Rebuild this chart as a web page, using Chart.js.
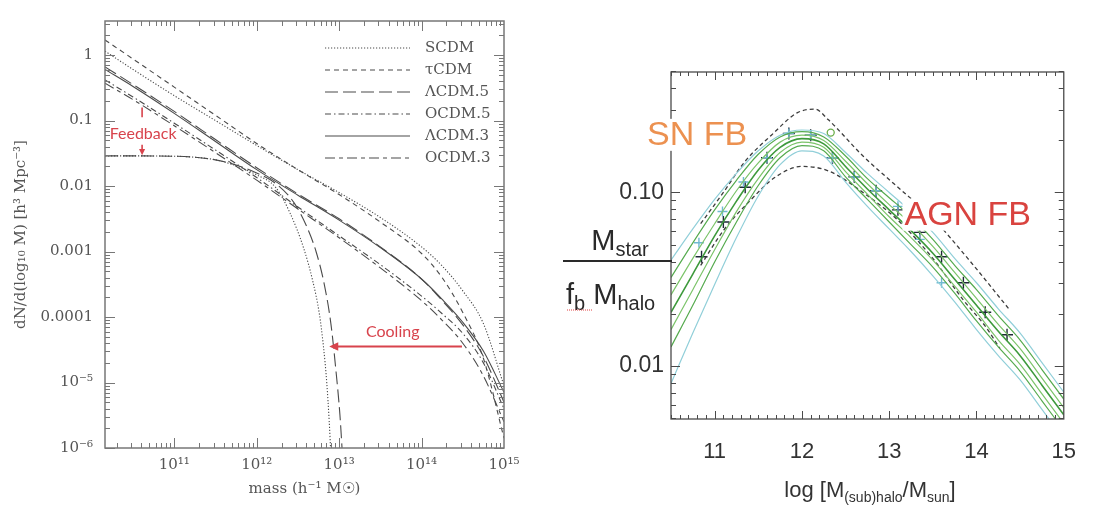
<!DOCTYPE html>
<html>
<head>
<meta charset="utf-8">
<script src="https://cdn.jsdelivr.net/npm/chart.js@4.4.1/dist/chart.umd.min.js"></script>
<style>
  body { margin: 0; background: #fff; }
  #wrap { position: relative; width: 1096px; height: 506px; overflow: hidden; background: #fff; }
  canvas { position: absolute; top: 0; }
  #left { left: 0; }
  #right { left: 540px; }
</style>
</head>
<body>
<div id="wrap">
  <canvas id="left" width="540" height="506"></canvas>
  <canvas id="right" width="556" height="506"></canvas>
</div>
<script>
// ---------- left panel: halo mass functions, log10 values ----------
const massLog = [10.16, 10.5, 11, 11.5, 12, 12.5, 13, 13.5, 14, 14.25, 14.5, 14.75, 15]
const scdm  = [0.06, -0.22, -0.62, -1.0, -1.38, -1.75, -2.1, -2.48, -2.93, -3.22, -3.6, -4.1, -5.05]
const tcdm  = [0.23, -0.06, -0.49, -0.92, -1.35, -1.75, -2.13, -2.55, -3.03, -3.4, -3.93, -4.63, -5.85]
const lcdm5 = [-0.18, -0.45, -0.86, -1.29, -1.72, -2.12, -2.5, -2.93, -3.42, -3.75, -4.12, -4.6, -5.3]
const ocdm5 = [-0.38, -0.64, -1.04, -1.45, -1.87, -2.32, -2.76, -3.2, -3.68, -3.95, -4.25, -4.7, -5.4]
const lcdm3 = [-0.22, -0.48, -0.89, -1.32, -1.75, -2.14, -2.52, -2.94, -3.42, -3.73, -4.08, -4.52, -5.15]
const ocdm3 = [-0.43, -0.68, -1.08, -1.49, -1.91, -2.35, -2.79, -3.25, -3.75, -4.05, -4.4, -4.9, -5.6]

// the two "feedback + cooling" curves
const cutMassA = [10.16, 10.5, 11, 11.25, 11.5, 11.75, 12, 12.23, 12.4, 12.57, 12.68, 12.76, 12.81, 12.85, 12.88, 12.9]
const cutA     = [-1.54, -1.54, -1.545, -1.56, -1.6, -1.69, -1.83, -2.02, -2.4, -2.95, -3.45, -3.95, -4.45, -5.0, -5.6, -6.1]
const cutMassB = [10.16, 10.5, 11, 11.25, 11.5, 11.75, 12, 12.25, 12.45, 12.6, 12.72, 12.82, 12.9, 12.96, 13.01, 13.04]
const cutB     = [-1.54, -1.54, -1.545, -1.56, -1.6, -1.68, -1.8, -1.98, -2.25, -2.6, -3.0, -3.5, -4.1, -4.8, -5.5, -6.1]

const massTicks = [1e11, 1e12, 1e13, 1e14, 1e15]
const massTickLabels = ['10¹¹', '10¹²', '10¹³', '10¹⁴', '10¹⁵']
const dnTicks = [1e-6, 1e-5, 1e-4, 1e-3, 1e-2, 1e-1, 1]
const dnTickLabels = ['10⁻⁶', '10⁻⁵', '0.0001', '0.001', '0.01', '0.1', '1']

// ---------- right panel: stellar-to-halo mass fraction, log10 values ----------
const haloLog = [10.5, 10.75, 11, 11.25, 11.5, 11.75, 12, 12.25, 12.5, 12.75, 13, 13.25, 13.5, 13.75, 14, 14.25, 14.5, 14.75, 15]
const greenP2 = [-1.49, -1.29, -1.10, -0.93, -0.78, -0.68, -0.65, -0.68, -0.79, -0.92, -1.03, -1.14, -1.27, -1.42, -1.56, -1.71, -1.85, -2.02, -2.19]
const greenP1 = [-1.59, -1.38, -1.18, -0.99, -0.83, -0.71, -0.67, -0.70, -0.82, -0.95, -1.07, -1.18, -1.31, -1.46, -1.61, -1.76, -1.90, -2.07, -2.24]
const greenMid = [-1.69, -1.47, -1.25, -1.05, -0.87, -0.74, -0.69, -0.72, -0.85, -0.98, -1.10, -1.22, -1.35, -1.50, -1.65, -1.80, -1.94, -2.11, -2.28]
const greenM1 = [-1.79, -1.56, -1.33, -1.11, -0.92, -0.77, -0.71, -0.74, -0.88, -1.01, -1.14, -1.26, -1.39, -1.54, -1.69, -1.85, -1.99, -2.16, -2.33]
const greenM2 = [-1.89, -1.65, -1.40, -1.17, -0.96, -0.80, -0.73, -0.76, -0.91, -1.04, -1.17, -1.30, -1.43, -1.58, -1.74, -1.89, -2.03, -2.20, -2.37]
const cyanUp  = [-1.39, -1.21, -1.04, -0.89, -0.76, -0.67, -0.64, -0.66, -0.77, -0.89, -1.00, -1.11, -1.23, -1.38, -1.52, -1.67, -1.81, -1.98, -2.15]
const cyanDn  = [-2.10, -1.81, -1.53, -1.26, -1.02, -0.84, -0.76, -0.79, -0.94, -1.08, -1.21, -1.34, -1.48, -1.63, -1.79, -1.94, -2.08, -2.25, -2.42]

const dashUpHalo = [10.84, 11.1, 11.35, 11.65, 11.95, 12.15, 12.3, 12.7, 13.1, 13.5, 13.9, 14.37]
const dashUp     = [-1.18, -1.0, -0.82, -0.67, -0.54, -0.52, -0.58, -0.79, -0.97, -1.15, -1.38, -1.67]
const dashLoHalo = [10.84, 11.1, 11.4, 11.7, 12.0, 12.3, 12.7, 13.1, 13.5, 13.85, 14.1, 14.27]
const dashLo     = [-1.42, -1.22, -1.05, -0.91, -0.85, -0.875, -1.0, -1.16, -1.38, -1.62, -1.77, -1.9]

const crossHalo = [10.85, 11.1, 11.35, 11.6, 11.85, 12.1, 12.35, 12.6, 12.85, 13.1, 13.35, 13.6, 13.85, 14.1, 14.35]
const crossFrac = [-1.37, -1.17, -0.97, -0.80, -0.66, -0.67, -0.80, -0.91, -0.99, -1.10, -1.23, -1.37, -1.52, -1.69, -1.82]
const cyanMarkHalo = [10.82, 11.09, 11.33, 11.6, 11.85, 12.1, 12.35, 12.6, 12.85, 13.1, 13.35, 13.6]
const cyanMarkFrac = [-1.29, -1.11, -0.94, -0.80, -0.66, -0.67, -0.80, -0.91, -0.99, -1.08, -1.27, -1.52]
const circleHalo = [12.33]
const circleFrac = [-0.655]

const haloTicks = [11, 12, 13, 14, 15]
const haloTickLabels = ['11', '12', '13', '14', '15']
const fracTicks = [0.01, 0.1]
const fracTickLabels = ['0.01', '0.10']

// annotations, in data coordinates
const feedbackNote = { mass: 10.61, barTop: -0.80, barBottom: -0.95, textY: -1.21, arrowTop: -1.37, arrowTip: -1.53 }
const coolingNote = { textMass: 13.65, textY: -4.22, arrowFrom: 14.49, arrowTo: 12.88, arrowY: -4.45 }
const snNote = { halo: 10.8, frac: -0.668, text: 'SN FB' }
const agnNote = { halo: 13.9, frac: -1.128, text: 'AGN FB' }

const logPts = (xs, ys) => xs.map((x, i) => ({ x: 10 ** x, y: 10 ** ys[i] }))
const fracPts = (xs, ys) => xs.map((x, i) => ({ x: x, y: 10 ** ys[i] }))

const serif = 'DejaVu Serif'
const grey = '#555'

function curve(label, xs, ys, dash, inLegend) {
  return {
    label, inLegend, data: logPts(xs, ys), borderColor: '#4a4a4a', borderWidth: 1.1,
    borderDash: dash, pointRadius: 0, cubicInterpolationMode: 'monotone', fill: false, clip: 0
  }
}

function tickList(decades, bigLen, smallLen) {
  const out = []
  decades.forEach(d => { for (let k = 1; k <= 9; k++) out.push([k * 10 ** d, k === 1 ? bigLen : smallLen]) })
  return out
}

// frame + inward tick marks on all four sides
const frame = {
  id: 'frame',
  afterDatasetsDraw(chart, args, o) {
    const { ctx, chartArea: a, scales: { x, y } } = chart
    ctx.save()
    ctx.strokeStyle = o.color
    ctx.lineWidth = 1
    o.xTicks.forEach(([v, len]) => {
      const p = Math.round(x.getPixelForValue(v)) + 0.5
      if (p < a.left - 0.5 || p > a.right + 0.5) return
      ctx.beginPath()
      ctx.moveTo(p, a.bottom); ctx.lineTo(p, a.bottom - len)
      ctx.moveTo(p, a.top); ctx.lineTo(p, a.top + len)
      ctx.stroke()
    })
    o.yTicks.forEach(([v, len]) => {
      const p = Math.round(y.getPixelForValue(v)) + 0.5
      if (p < a.top - 0.5 || p > a.bottom + 0.5) return
      ctx.beginPath()
      ctx.moveTo(a.left, p); ctx.lineTo(a.left + len, p)
      ctx.moveTo(a.right, p); ctx.lineTo(a.right - len, p)
      ctx.stroke()
    })
    ctx.lineWidth = o.width
    ctx.strokeRect(a.left, a.top, a.width, a.height)
    ctx.restore()
  }
}

function arrowHead(ctx, x, y, dx, dy, size) {
  const ang = Math.atan2(dy, dx)
  ctx.beginPath()
  ctx.moveTo(x, y)
  ctx.lineTo(x - size * Math.cos(ang - 0.45), y - size * Math.sin(ang - 0.45))
  ctx.lineTo(x - size * Math.cos(ang + 0.45), y - size * Math.sin(ang + 0.45))
  ctx.closePath()
  ctx.fill()
}

const leftNotes = {
  id: 'leftNotes',
  afterDatasetsDraw(chart) {
    const { ctx, scales: { x, y } } = chart
    const red = '#d8434c'
    ctx.save()
    // legend
    ctx.font = '15px ' + serif
    ctx.textBaseline = 'middle'
    chart.data.datasets.filter(d => d.inLegend).forEach((d, i) => {
      const ry = 48 + i * 22
      ctx.strokeStyle = d.borderColor; ctx.lineWidth = 1.1
      ctx.setLineDash(d.borderDash)
      ctx.beginPath(); ctx.moveTo(325, ry); ctx.lineTo(410, ry); ctx.stroke()
      ctx.setLineDash([])
      ctx.fillStyle = grey
      ctx.fillText(d.label, 425, ry)
    })
    // feedback
    ctx.strokeStyle = red; ctx.fillStyle = red
    const fx = x.getPixelForValue(10 ** feedbackNote.mass)
    ctx.lineWidth = 1.6
    ctx.beginPath()
    ctx.moveTo(fx, y.getPixelForValue(10 ** feedbackNote.barTop))
    ctx.lineTo(fx, y.getPixelForValue(10 ** feedbackNote.barBottom))
    const tip = y.getPixelForValue(10 ** feedbackNote.arrowTip)
    ctx.moveTo(fx, y.getPixelForValue(10 ** feedbackNote.arrowTop))
    ctx.lineTo(fx, tip - 4)
    ctx.stroke()
    arrowHead(ctx, fx, tip, 0, 1, 7)
    ctx.font = '16px Lato'
    ctx.textAlign = 'center'
    ctx.fillText('Feedback', fx + 1, y.getPixelForValue(10 ** feedbackNote.textY))
    // cooling
    const cy = y.getPixelForValue(10 ** coolingNote.arrowY)
    const c0 = x.getPixelForValue(10 ** coolingNote.arrowFrom)
    const c1 = x.getPixelForValue(10 ** coolingNote.arrowTo)
    ctx.lineWidth = 2
    ctx.beginPath(); ctx.moveTo(c0, cy); ctx.lineTo(c1 + 6, cy); ctx.stroke()
    arrowHead(ctx, c1, cy, -1, 0, 10)
    ctx.fillText('Cooling', x.getPixelForValue(10 ** coolingNote.textMass), y.getPixelForValue(10 ** coolingNote.textY))
    ctx.restore()
  }
}

new Chart(document.getElementById('left'), {
  type: 'line',
  data: {
    datasets: [
      curve('SCDM', massLog, scdm, [1.2, 1.8], true),
      curve('τCDM', massLog, tcdm, [5, 4], true),
      curve('ΛCDM.5', massLog, lcdm5, [13, 5], true),
      curve('OCDM.5', massLog, ocdm5, [6, 3, 1.5, 3], true),
      curve('ΛCDM.3', massLog, lcdm3, [], true),
      curve('OCDM.3', massLog, ocdm3, [10, 4, 4, 4], true),
      curve('cutA', cutMassA, cutA, [1.2, 1.8], false),
      curve('cutB', cutMassB, cutB, [13, 5], false)
    ]
  },
  options: {
    responsive: false,
    animation: false,
    layout: { padding: { left: 0, right: 36, top: 11, bottom: 0 } },
    plugins: {
      legend: { display: false },
      tooltip: { enabled: false },
      frame: {
        color: '#777', width: 1.5,
        xTicks: tickList([10, 11, 12, 13, 14], 10, 5),
        yTicks: tickList([-6, -5, -4, -3, -2, -1, 0], 10, 5)
      }
    },
    scales: {
      x: {
        type: 'logarithmic', min: 10 ** 10.16, max: 1e15,
        afterFit: s => { s.height = 58 },
        afterBuildTicks: s => { s.ticks = massTicks.map(v => ({ value: v })) },
        grid: { display: false, drawTicks: false },
        border: { display: false },
        ticks: { callback: (v, i) => massTickLabels[i], padding: 8, color: grey, font: { family: serif, size: 15 }, maxRotation: 0, autoSkip: false },
        title: { display: true, text: 'mass (h⁻¹ M☉)', color: grey, font: { family: serif, size: 15 }, padding: { top: 0, bottom: 8 } }
      },
      y: {
        type: 'logarithmic', min: 1e-6, max: 10 ** 0.52,
        afterFit: s => { s.width = 105 },
        afterBuildTicks: s => { s.ticks = dnTicks.map(v => ({ value: v })) },
        grid: { display: false, drawTicks: false },
        border: { display: false },
        ticks: { callback: (v, i) => dnTickLabels[i], padding: 12, color: grey, font: { family: serif, size: 15 }, autoSkip: false },
        title: { display: true, text: 'dN/d(log₁₀ M) [h³ Mpc⁻³]', color: grey, font: { family: serif, size: 15 }, padding: { top: 12, bottom: 0 } }
      }
    }
  },
  plugins: [frame, leftNotes]
})

// ---------- right panel ----------
function band(xs, ys, color, width) {
  return { data: fracPts(xs, ys), borderColor: color, borderWidth: width, pointRadius: 0, cubicInterpolationMode: 'monotone', fill: false, clip: 0 }
}
function marks(xs, ys, style, color, radius, width) {
  return { data: fracPts(xs, ys), showLine: false, pointStyle: style, pointRadius: radius, pointBorderColor: color, pointBackgroundColor: 'rgba(0,0,0,0)', pointBorderWidth: width, clip: 0 }
}

const sans = 'Liberation Sans'

const rightNotes = {
  id: 'rightNotes',
  afterDatasetsDraw(chart) {
    const { ctx, scales: { x, y } } = chart
    ctx.save()
    ctx.font = '34px ' + sans
    ctx.textAlign = 'center'
    ctx.textBaseline = 'middle'
    ;[[snNote, '#ec9150'], [agnNote, '#d9433f']].forEach(([n, col]) => {
      const px = x.getPixelForValue(n.halo), py = y.getPixelForValue(10 ** n.frac)
      const w = ctx.measureText(n.text).width
      ctx.fillStyle = '#fff'
      ctx.fillRect(px - w / 2 - 2, py - 16, w + 4, 32)
      ctx.fillStyle = col
      ctx.fillText(n.text, px, py + 1)
    })
    ctx.restore()
  },
  afterDraw(chart) {
    const ctx = chart.ctx
    ctx.save()
    ctx.fillStyle = '#2a2a2a'
    ctx.textBaseline = 'alphabetic'
    const piece = (parts, x0, base) => {
      let cx = x0
      parts.forEach(([t, size, dy]) => {
        ctx.font = size + 'px ' + sans
        ctx.fillText(t, cx, base + dy)
        cx += ctx.measureText(t).width
      })
      return cx - x0
    }
    const width = parts => parts.reduce((s, [t, size]) => { ctx.font = size + 'px ' + sans; return s + ctx.measureText(t).width }, 0)
    // y title as a fraction
    const top = [['M', 29, 0], ['star', 20, 6]]
    piece(top, 80 - width(top) / 2, 250)
    ctx.fillRect(23, 260, 109, 2)
    piece([['f', 29, 0], ['b', 20, 6], [' M', 29, 0], ['halo', 20, 6]], 26, 304)
    ctx.strokeStyle = '#e04040'
    ctx.lineWidth = 1
    ctx.setLineDash([1, 1])
    ctx.beginPath(); ctx.moveTo(27, 310); ctx.lineTo(52, 310); ctx.stroke()
    ctx.setLineDash([])
    // x title with subscripts
    const xt = [['log [M', 22, 0], ['(sub)halo', 14, 5], ['/M', 22, 0], ['sun', 14, 5], [']', 22, 0]]
    ctx.fillStyle = '#333'
    piece(xt, 330 - width(xt) / 2, 497)
    ctx.restore()
  }
}

const rYTicks = tickList([-3, -2, -1], 9, 5)
const rXTicks = []
for (let t = 105; t <= 150; t++) rXTicks.push([t / 10, t % 10 === 0 ? 8 : 4])

new Chart(document.getElementById('right'), {
  type: 'line',
  data: {
    datasets: [
      band(haloLog, cyanUp, '#91cfd9', 1.2),
      band(haloLog, cyanDn, '#91cfd9', 1.2),
      band(haloLog, greenP2, '#56ab4f', 1.2),
      band(haloLog, greenP1, '#7cc46a', 1.2),
      band(haloLog, greenM1, '#7cc46a', 1.2),
      band(haloLog, greenM2, '#56ab4f', 1.2),
      band(haloLog, greenMid, '#3e9a3c', 1.6),
      Object.assign(band(dashUpHalo, dashUp, '#3d3d3d', 1.3), { borderDash: [4, 3] }),
      Object.assign(band(dashLoHalo, dashLo, '#3d3d3d', 1.3), { borderDash: [4, 3] }),
      marks(cyanMarkHalo, cyanMarkFrac, 'cross', '#6fb9d2', 5, 1.4),
      marks(crossHalo, crossFrac, 'cross', '#1e2836', 6, 1.4),
      marks(circleHalo, circleFrac, 'circle', '#6aae4a', 3.5, 1.3)
    ]
  },
  options: {
    responsive: false,
    animation: false,
    layout: { padding: { left: 0, right: 18, top: 72, bottom: 0 } },
    plugins: {
      legend: { display: false },
      tooltip: { enabled: false },
      frame: { color: '#4a4a4a', width: 1.3, xTicks: rXTicks, yTicks: rYTicks }
    },
    scales: {
      x: {
        type: 'linear', min: 10.5, max: 15,
        afterFit: s => { s.height = 87 },
        afterBuildTicks: s => { s.ticks = haloTicks.map(v => ({ value: v })) },
        grid: { display: false, drawTicks: false },
        border: { display: false },
        ticks: { callback: (v, i) => haloTickLabels[i], padding: 20, color: '#333', font: { family: sans, size: 22 }, maxRotation: 0, autoSkip: false }
      },
      y: {
        type: 'logarithmic', min: 10 ** -2.305, max: 10 ** -0.306,
        afterFit: s => { s.width = 131 },
        afterBuildTicks: s => { s.ticks = fracTicks.map(v => ({ value: v })) },
        grid: { display: false, drawTicks: false },
        border: { display: false },
        ticks: { callback: (v, i) => fracTickLabels[i], padding: 7, color: '#333', font: { family: sans, size: 23 }, autoSkip: false }
      }
    }
  },
  plugins: [frame, rightNotes]
})
</script>
</body>
</html>
